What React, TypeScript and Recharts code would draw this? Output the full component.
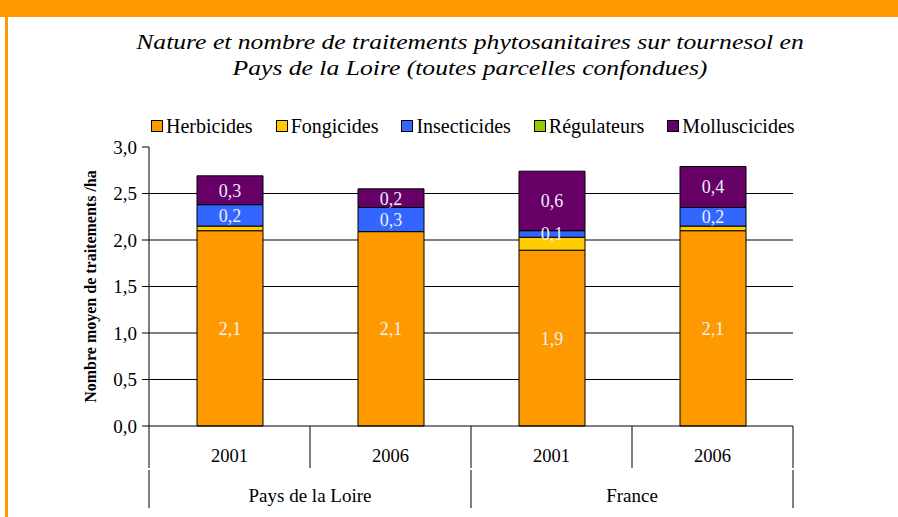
import React from 'react';
import { BarChart, Bar, XAxis, YAxis, CartesianGrid, LabelList } from 'recharts';

const ids = ['PdL2001', 'PdL2006', 'Fr2001', 'Fr2006'];
const years = ['2001', '2006', '2001', '2006'];
const regions = ['Pays de la Loire', 'Pays de la Loire', 'France', 'France'];

const herbicides = [2.1, 2.09, 1.89, 2.1];
const fongicides = [0.05, 0, 0.14, 0.05];
const insecticides = [0.23, 0.26, 0.07, 0.2];
const regulateurs = [0, 0, 0, 0];
const molluscicides = [0.31, 0.2, 0.64, 0.44];

const yTicks = [0, 0.5, 1, 1.5, 2, 2.5, 3];
const gridValues = [0.5, 1, 1.5, 2, 2.5];

const series = [
  { key: 'herbicides', name: 'Herbicides', color: '#FF9900', label: true },
  { key: 'fongicides', name: 'Fongicides', color: '#FFCC00', label: false },
  { key: 'insecticides', name: 'Insecticides', color: '#3366FF', label: true },
  { key: 'regulateurs', name: 'Régulateurs', color: '#99CC00', label: false },
  { key: 'molluscicides', name: 'Molluscicides', color: '#660066', label: true },
];

const data = ids.map((id, i) => ({
  id,
  year: years[i],
  region: regions[i],
  herbicides: herbicides[i],
  fongicides: fongicides[i],
  insecticides: insecticides[i],
  regulateurs: regulateurs[i],
  molluscicides: molluscicides[i],
}));

const FONT = 'Liberation Serif';
const W = 898;
const H = 517;
const PLOT_LEFT = 149;
const PLOT_RIGHT = 793;
const BAND = (PLOT_RIGHT - PLOT_LEFT) / ids.length;

const fmt = (v: number) => v.toFixed(1).replace('.', ',');

const YearTick = (props: any) => {
  const { x, y, index } = props;
  return (
    <g>
      <line x1={x - BAND / 2} x2={x - BAND / 2} y1={y} y2={y + 42} stroke="#000" />
      {index === ids.length - 1 && (
        <line x1={x + BAND / 2} x2={x + BAND / 2} y1={y} y2={y + 42} stroke="#000" />
      )}
      <text x={x} y={y + 36} textAnchor="middle" fontSize={18.5} fontFamily={FONT} fill="#000">
        {years[index]}
      </text>
    </g>
  );
};

const RegionTick = (props: any) => {
  const { x, y, index } = props;
  const first = index === 0 || regions[index] !== regions[index - 1];
  const last = index === ids.length - 1;
  return (
    <g>
      {first && <line x1={x - BAND / 2} x2={x - BAND / 2} y1={y} y2={y + 38} stroke="#000" />}
      {last && <line x1={x + BAND / 2} x2={x + BAND / 2} y1={y} y2={y + 38} stroke="#000" />}
      {first && (
        <text x={x + BAND / 2} y={y + 32} textAnchor="middle" fontSize={19} fontFamily={FONT} fill="#000">
          {regions[index]}
        </text>
      )}
    </g>
  );
};

export default function App() {
  return (
    <div style={{ position: 'absolute', left: 0, top: 0, width: W, height: H, background: '#fff', fontFamily: FONT, overflow: 'hidden' }}>
      {/* orange frame */}
      <div style={{ position: 'absolute', left: 0, top: 0, width: W, height: 17, background: '#FF9900' }} />
      <div style={{ position: 'absolute', left: 5, top: 0, width: 3, height: H, background: '#FF9900' }} />

      <div
        style={{
          position: 'absolute',
          left: 0,
          top: 29,
          width: 940,
          textAlign: 'center',
          fontFamily: FONT,
          fontStyle: 'italic',
          fontSize: 21,
          lineHeight: '26px',
          color: '#000',
          transform: 'scaleX(1.22)',
          transformOrigin: '470px 0',
        }}
      >
        Nature et nombre de traitements phytosanitaires sur tournesol en
        <br />
        Pays de la Loire (toutes parcelles confondues)
      </div>

      <div style={{ position: 'absolute', left: 151, top: 114, display: 'flex', fontFamily: FONT, fontSize: 20, lineHeight: '24px', color: '#000' }}>
        {series.map((s) => (
          <div key={s.key} style={{ display: 'flex', alignItems: 'center', marginRight: 23 }}>
            <span style={{ display: 'inline-block', width: 10, height: 10, background: s.color, border: '1px solid #000', marginRight: 3 }} />
            <span>{s.name}</span>
          </div>
        ))}
      </div>

      <BarChart
        width={W}
        height={H}
        data={data}
        margin={{ top: 147, right: W - PLOT_RIGHT, left: 89, bottom: 0 }}
        barSize={66}
        style={{ position: 'absolute', left: 0, top: 0 }}
      >
        <CartesianGrid vertical={false} horizontalValues={gridValues} stroke="#000" />
        <XAxis
          dataKey="id"
          height={44}
          tickLine={false}
          tickSize={0}
          tickMargin={0}
          axisLine={{ stroke: '#000' }}
          tick={<YearTick />}
          interval={0}
        />
        <XAxis
          xAxisId="region"
          dataKey="id"
          height={47}
          tickLine={false}
          tickSize={0}
          tickMargin={0}
          axisLine={false}
          tick={<RegionTick />}
          interval={0}
        />
        <YAxis
          width={60}
          domain={[0, 3]}
          ticks={yTicks}
          interval={0}
          tickFormatter={fmt}
          tickSize={7}
          tickMargin={5}
          axisLine={{ stroke: '#000' }}
          tickLine={{ stroke: '#000' }}
          tick={{ fill: '#000', fontSize: 19, fontFamily: FONT }}
          label={{
            value: 'Nombre moyen de traitements /ha',
            angle: -90,
            position: 'insideLeft',
            offset: 1,
            style: { textAnchor: 'middle', fontWeight: 'bold', fontSize: 16, fontFamily: FONT, fill: '#000' },
          }}
        />
        {series.map((s) => (
          <Bar key={s.key} dataKey={s.key} name={s.name} stackId="a" fill={s.color} stroke="#000" strokeWidth={1} isAnimationActive={false}>
            {s.label && (
              <LabelList dataKey={s.key} position="center" formatter={(v: any) => fmt(Number(v))} fill="#EEEEFF" fontSize={18} fontFamily={FONT} />
            )}
          </Bar>
        ))}
      </BarChart>
    </div>
  );
}
